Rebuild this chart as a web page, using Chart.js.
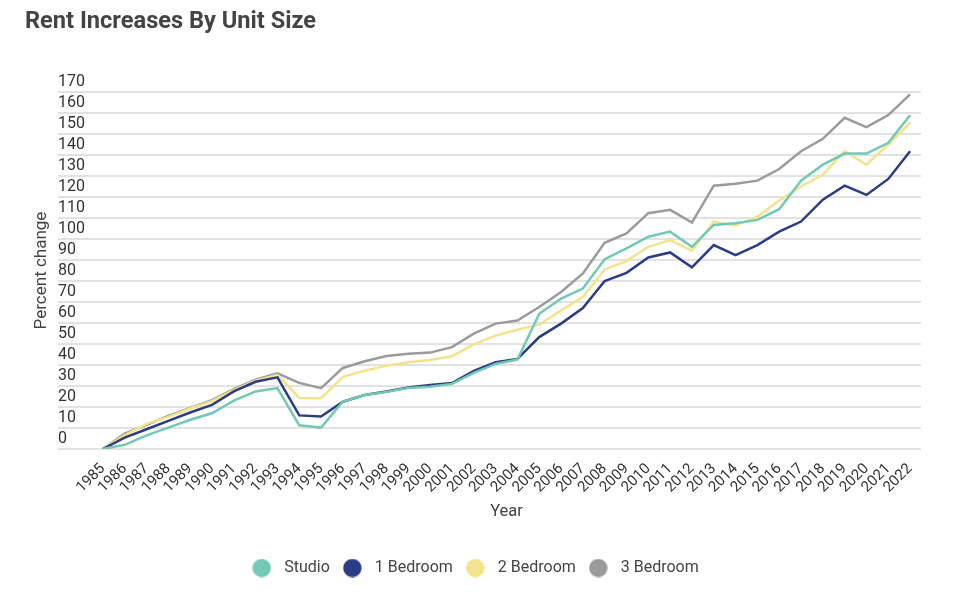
<!DOCTYPE html>
<html>
<head>
<meta charset="utf-8">
<script src="https://cdn.jsdelivr.net/npm/chart.js@4"></script>
<style>
  html, body { margin: 0; padding: 0; background: #fff; }
  #wrap { position: relative; width: 966px; height: 596px; }
  #title {
    position: absolute; left: 25px; top: 6px;
    font: bold 23.6px Roboto, sans-serif; line-height: 28px; color: #444;
  }
  canvas { position: absolute; left: 0; top: 0; }
</style>
</head>
<body>
<div id="wrap">
  <canvas id="chart" width="966" height="596"></canvas>
  <div id="title">Rent Increases By Unit Size</div>
</div>
<script>
const years = ["1985","1986","1987","1988","1989","1990","1991","1992","1993","1994",
  "1995","1996","1997","1998","1999","2000","2001","2002","2003","2004",
  "2005","2006","2007","2008","2009","2010","2011","2012","2013","2014",
  "2015","2016","2017","2018","2019","2020","2021","2022"];

const studio = [0, 2, 6.5, 10.2, 13.9, 17, 23, 27.4, 29, 11.3,
  10.2, 22.6, 25.7, 27.2, 29, 29.6, 31, 36.3, 40.5, 42.6,
  64.4, 71.6, 76.4, 90.4, 95.5, 101.1, 103.5, 96.3, 106.7, 107.5,
  109.1, 114.2, 127.8, 135.4, 140.7, 140.7, 145.8, 158.9];

const oneBed = [0, 5.4, 9.4, 13.4, 17.4, 21, 27.4, 32, 34.1, 16,
  15.5, 22.5, 25.7, 27.4, 29.3, 30.5, 31.4, 37.2, 41.3, 42.9,
  53.3, 59.7, 67.1, 80, 83.9, 91.2, 93.6, 86.5, 97.1, 92.3,
  97.1, 103.5, 108.3, 118.7, 125.4, 121, 128.6, 141.8];

const twoBed = [0, 6.5, 12, 15.3, 19.3, 22.8, 28, 32.5, 35.3, 24.3,
  24.2, 34.4, 37.3, 39.7, 41.3, 42.4, 44.2, 49.8, 54, 56.8,
  59.2, 66, 72.4, 85.5, 89.5, 96.3, 99.5, 94.4, 108.3, 106.4,
  110.7, 118.3, 125, 130.6, 141.8, 135.4, 145, 155.4];

const threeBed = [0, 7.3, 11.5, 15.8, 19.5, 23.3, 28.5, 33, 36, 31.5,
  29, 38.6, 41.8, 44.3, 45.3, 45.9, 48.5, 54.9, 59.7, 61.2,
  67.6, 74.8, 83.6, 98.2, 102.7, 112.3, 113.9, 107.8, 125.4, 126.3,
  127.8, 133.3, 141.8, 147.7, 157.7, 153.3, 159, 168.9];

const seriesNames = ["Studio", "1 Bedroom", "2 Bedroom", "3 Bedroom"];
const seriesColors = ["#72c9b5", "#2b3d84", "#f4e38c", "#9b9b9b"];

// legend dot, drawn as a small image so the spacing can be set freely
function dot(color) {
  const c = document.createElement('canvas');
  c.width = 19; c.height = 19;
  const g = c.getContext('2d');
  g.fillStyle = color;
  g.beginPath();
  g.arc(9.5, 9.5, 9.2, 0, Math.PI * 2);
  g.fill();
  return c;
}

function line(i, values) {
  return {
    label: seriesNames[i],
    data: values,
    yAxisID: 'y',
    borderColor: seriesColors[i],
    backgroundColor: seriesColors[i],
    borderWidth: 2.5,
    pointRadius: 0,
    pointHoverRadius: 0,
    pointStyle: dot(seriesColors[i]),
    tension: 0
  };
}

new Chart(document.getElementById('chart'), {
  type: 'line',
  data: {
    labels: years,
    datasets: [line(0, studio), line(1, oneBed), line(2, twoBed), line(3, threeBed)]
  },
  options: {
    responsive: false,
    animation: false,
    events: [],
    layout: { padding: { left: 25, right: 45, top: 92, bottom: 10 } },
    plugins: {
      tooltip: { enabled: false },
      legend: {
        position: 'bottom',
        labels: {
          usePointStyle: true,
          pointStyleWidth: 29,
          boxHeight: 13,
          padding: 8,
          color: '#444',
          font: { family: 'Roboto', size: 16 }
        }
      }
    },
    scales: {
      x: {
        offset: true,
        grid: { display: false, drawTicks: false },
        border: { display: false },
        ticks: {
          autoSkip: false,
          minRotation: 45,
          maxRotation: 45,
          padding: 11,
          color: '#333',
          font: { family: 'Roboto', size: 15 }
        },
        title: {
          display: true,
          text: 'Year',
          color: '#444',
          font: { family: 'Roboto', size: 16.5 },
          padding: { top: 4, bottom: 30 }
        },
        afterFit(s) { s.height = 103; }
      },
      y: {
        min: 0,
        max: 170,
        grid: {
          color: '#e2e2e2',
          lineWidth: 2,
          tickLength: 34,
          tickColor: '#e2e2e2',
          tickWidth: 2
        },
        border: { display: false },
        ticks: {
          stepSize: 10,
          autoSkip: false,
          crossAlign: 'far',
          labelOffset: -10,
          color: '#333',
          font: { family: 'Roboto', size: 16 }
        },
        afterFit(s) { s.width = 34; }
      },
      // holds only the y title, left of the left-aligned tick labels
      yt: {
        type: 'linear',
        position: 'left',
        weight: 1,
        grid: { display: false, drawTicks: false },
        border: { display: false },
        ticks: { display: false },
        title: {
          display: true,
          text: 'Percent change',
          color: '#444',
          font: { family: 'Roboto', size: 17 },
          padding: { top: 7, bottom: 0 }
        },
        afterFit(s) { s.width = 33; }
      }
    }
  }
});
</script>
</body>
</html>
